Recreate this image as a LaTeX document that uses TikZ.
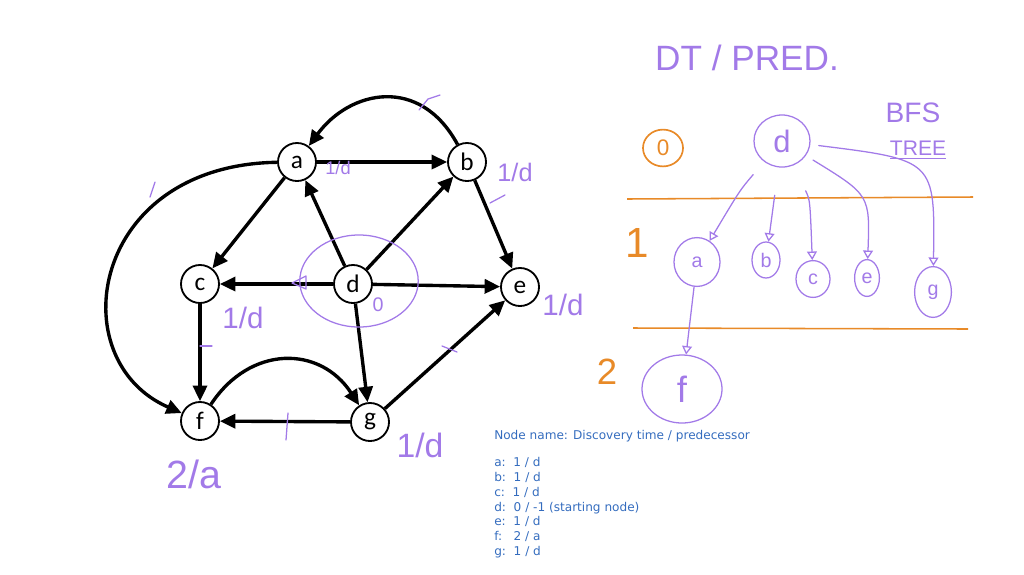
\documentclass[tikz,border=0pt]{standalone}
\usepackage{fontspec}
\usepackage{xcolor}
\usepackage{tikz}
\usetikzlibrary{arrows.meta, positioning, shapes.geometric, calc}
\newfontfamily\nodefont{Carlito}
\newfontfamily\infofont{DejaVu Sans}
\newfontfamily\handfont{Liberation Sans}
\definecolor{hand}{RGB}{162,122,232}
\definecolor{marker}{RGB}{232,138,40}
\definecolor{info}{RGB}{52,108,190}

\begin{document}
\begin{tikzpicture}[x=0.025cm, y=-0.025cm,
  vtx/.style={draw, circle, line width=1.3pt, minimum size=0.95cm, inner sep=0pt,
              font=\nodefont\fontsize{18}{18}\selectfont},
  arr/.style={-{Triangle[length=11pt, width=10pt]}, line width=2.4pt},
  pen/.style={hand, line width=0.9pt, line cap=round, line join=round},
  parr/.style={pen, -{Triangle[open, length=6pt, width=7pt]}},
  note/.style={text=hand, inner sep=0pt, font=\handfont\fontsize{#1}{#1}\selectfont},
  note/.default=14,
  tnode/.style={draw=hand, line width=0.9pt, ellipse, inner sep=0pt, text=hand,
                font=\handfont\fontsize{14}{14}\selectfont},
  lvl/.style={text=marker, inner sep=0pt, font=\handfont\fontsize{#1}{#1}\selectfont}
]
  \useasboundingbox (0,0) rectangle (1024,574);

  \node[vtx] (a) at (297,162) {a};
  \node[vtx] (b) at (467,162) {b};
  \node[vtx] (c) at (200,284) {c};
  \node[vtx] (d) at (353,284) {d};
  \node[vtx] (e) at (520,287) {e};
  \node[vtx] (f) at (200,421) {f};
  \node[vtx] (g) at (370,422) {g};

  \draw[arr] (a) -- (b);
  \draw[arr] (b) .. controls (420,75) and (350,90) .. (a);
  \draw[arr] (a) .. controls (90,165) and (60,360) .. (f);
  \draw[arr] (a) -- (c);
  \draw[arr] (d) -- (a);
  \draw[arr] (d) -- (b);
  \draw[arr] (d) -- (c);
  \draw[arr] (d) -- (e);
  \draw[arr] (d) -- (g);
  \draw[arr] (b) -- (e);
  \draw[arr] (c) -- (f);
  \draw[arr] (f) .. controls (250,345) and (320,345) .. (g);
  \draw[arr] (g) -- (f);
  \draw[arr] (g) -- (e);

  \draw[pen] (359,281) ellipse [x radius=1.48cm, y radius=1.15cm];
  \draw[pen] (292,283) -- (306,276) -- (306,289) -- cycle;
  \draw[pen] (419,110) -- (428,99) -- (440,95);
  \draw[pen] (150,197) -- (155,182);
  \draw[pen] (490,203) -- (505,195);
  \draw[pen] (200,346) -- (212,346);
  \draw[pen] (288,413) -- (286,440);
  \draw[pen] (442,346) -- (457,352);

  \node[note=13] (lba) at (338,168) {1/d};
  \node[note=18] (lbb) at (515,172) {1/d};
  \node[note=21] (lbc) at (243,318) {1/d};
  \node[note=14] (lbd) at (378,305) {0};
  \node[note=21] (lbe) at (563,305) {1/d};
  \node[note=28] (lbf) at (194,474) {2/a};
  \node[note=24] (lbg) at (420,445) {1/d};

  \node[anchor=north west, align=left, inner sep=0pt, text=info,
        font=\infofont\fontsize{8.6}{10.5}\selectfont] (legend) at (494,430)
    {Node name: Discovery time / predecessor\\[9pt]
     a:~~1 / d\\
     b:~~1 / d\\
     c:~~1 / d\\
     d:~~0 / -1 (starting node)\\
     e:~~1 / d\\
     f:~~~2 / a\\
     g:~~1 / d};

  \node[note=25] (title) at (747,58) {DT / PRED.};
  \node[note=20] (bfs) at (913,113) {BFS};
  \node[note=15] (tree) at (918,150) {\underline{TREE}};

  \draw[marker, line width=1.1pt] (627,199) -- (973,197);
  \draw[marker, line width=1.1pt] (633,328) -- (968,329);
  \node[draw=marker, line width=1.2pt, ellipse, minimum width=1cm, minimum height=0.92cm,
        lvl=16] (lvl0) at (663,148) {0};
  \node[lvl=30] (lvl1) at (637,243) {1};
  \node[lvl=26] (lvl2) at (607,372) {2};

  \node[tnode, minimum width=1.4cm, minimum height=1.3cm, font=\handfont\fontsize{22}{22}\selectfont] (td) at (782,141) {d};
  \node[tnode, minimum width=1.15cm, minimum height=1.22cm] (ta) at (697,262) {a};
  \node[tnode, minimum width=0.7cm, minimum height=0.9cm] (tb) at (766,260) {b};
  \node[tnode, minimum width=0.85cm, minimum height=0.92cm] (tc) at (813,279) {c};
  \node[tnode, minimum width=0.62cm, minimum height=0.92cm] (te) at (867,278) {e};
  \node[tnode, minimum width=0.92cm, minimum height=1.27cm] (tg) at (933,292) {g};
  \node[tnode, minimum width=2cm, minimum height=1.7cm, font=\handfont\fontsize{26}{26}\selectfont] (tf) at (682,389) {f};

  \draw[parr, shorten <=12pt] (td) .. controls (740,190) .. (ta);
  \draw[parr, shorten <=20pt] (td) -- (tb);
  \draw[parr, shorten <=20pt] (td) .. controls (810,200) .. (tc);
  \draw[parr, shorten <=6pt] (td) .. controls (870,195) .. (te);
  \draw[parr, shorten <=6pt] (td) .. controls (935,160) .. (tg);
  \draw[parr] (ta) -- (tf);
\end{tikzpicture}
\end{document}
